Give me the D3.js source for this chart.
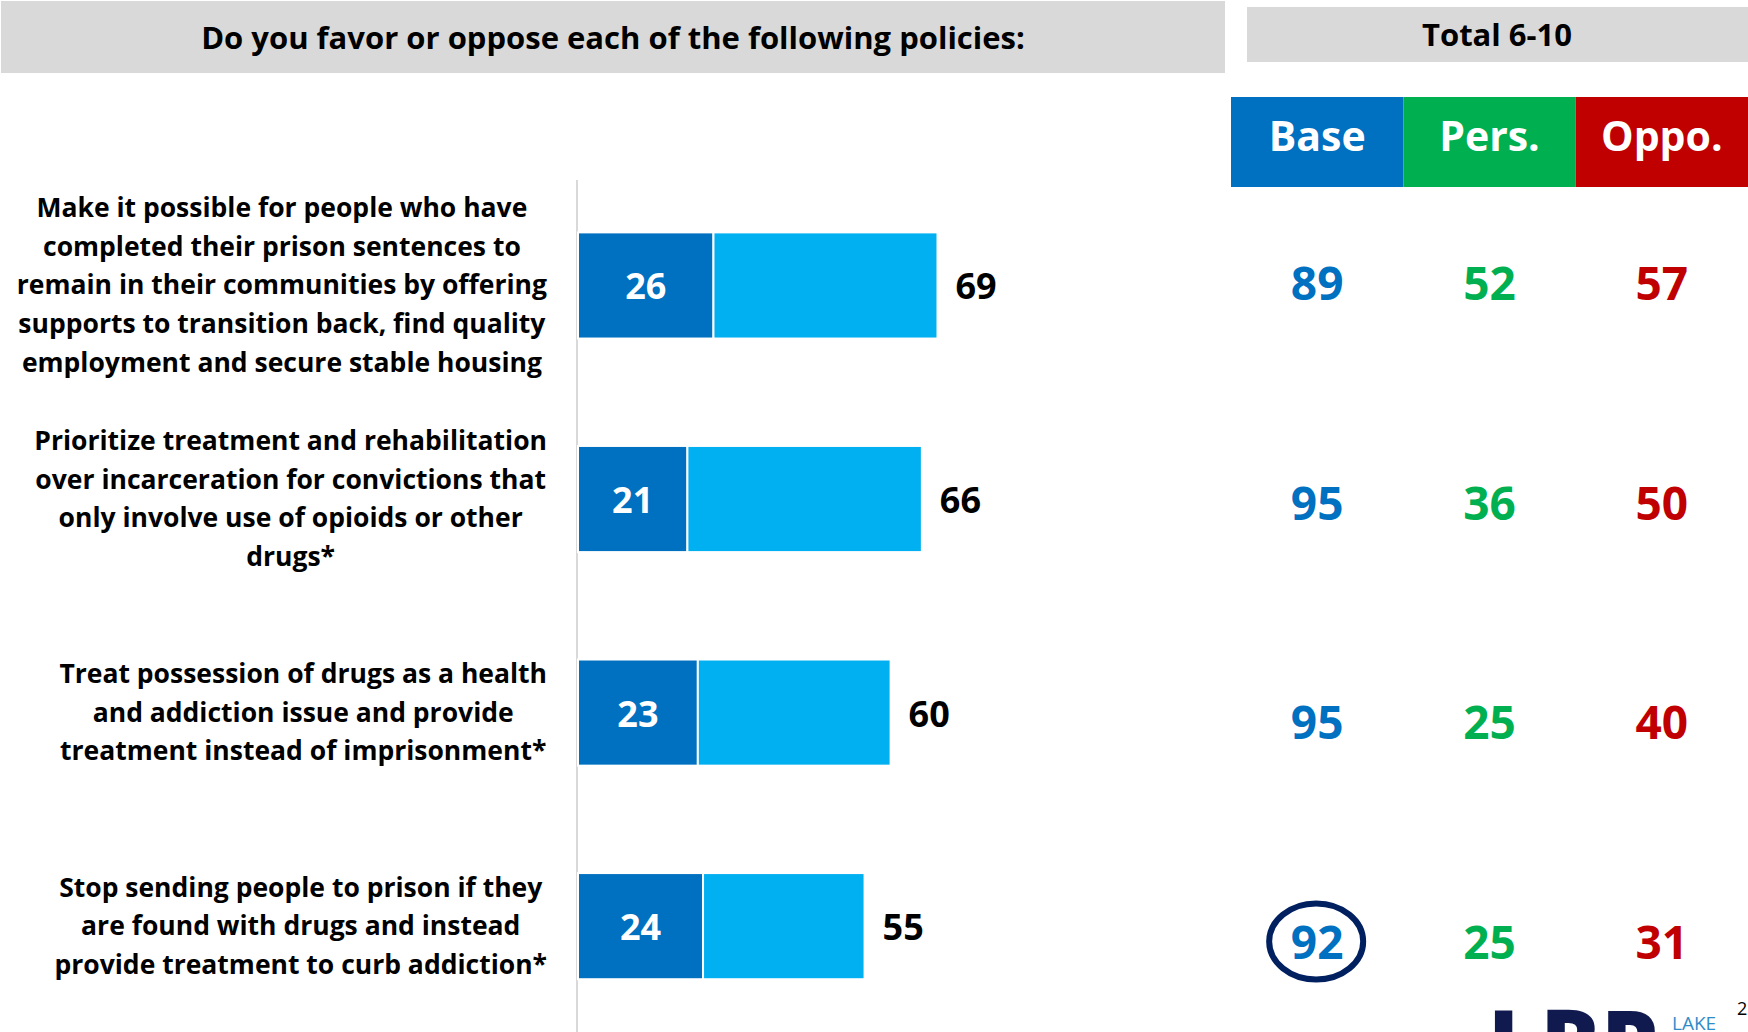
<!DOCTYPE html>
<html>
<head>
<meta charset="utf-8">
<script src="https://cdn.jsdelivr.net/npm/d3@7"></script>
<style>
  html, body { margin: 0; padding: 0; background: #ffffff; overflow: hidden; }
  svg { display: block; font-family: "Open Sans", "Noto Sans", sans-serif; }
</style>
</head>
<body>
<svg id="chart" width="1748" height="1032"></svg>
<script>
// Policy statements (one entry per bar, split into display lines)
const policies = [
  ["Make it possible for people who have",
   "completed their prison sentences to",
   "remain in their communities by offering",
   "supports to transition back, find quality",
   "employment and secure stable housing"],
  ["Prioritize treatment and rehabilitation",
   "over incarceration for convictions that",
   "only involve use of opioids or other",
   "drugs*"],
  ["Treat possession of drugs as a health",
   "and addiction issue and provide",
   "treatment instead of imprisonment*"],
  ["Stop sending people to prison if they",
   "are found with drugs and instead",
   "provide treatment to curb addiction*"]
];
const strongFavor = [26, 21, 23, 24];
const totalFavor  = [69, 66, 60, 55];

// Total 6-10 by segment
const segments = ["Base", "Pers.", "Oppo."];
const baseTotal = [89, 95, 95, 92];
const persTotal = [52, 36, 25, 25];
const oppoTotal = [57, 50, 40, 31];
const circledRow = 3;

const title = "Do you favor or oppose each of the following policies:";
const tableTitle = "Total 6-10";

const COL = {
  header: "#d9d9d9",
  strong: "#0070c0",
  total: "#00b0f0",
  base: "#0070c0",
  pers: "#00b050",
  oppo: "#c00000",
  ring: "#002060",
  logo: "#111a4e",
  lake: "#2e8cc8"
};
const segColors = [COL.base, COL.pers, COL.oppo];
const segValues = [baseTotal, persTotal, oppoTotal];

const svg = d3.select("#chart");
const rows = d3.range(policies.length);

// ---- headers ----
svg.append("rect").attr("x", 1).attr("y", 1).attr("width", 1224).attr("height", 72)
  .attr("fill", COL.header);
svg.append("text").attr("x", 613).attr("y", 49)
  .attr("text-anchor", "middle").attr("font-weight", 700).attr("font-size", 31)
  .attr("fill", "#000").text(title);

svg.append("rect").attr("x", 1247).attr("y", 7).attr("width", 501).attr("height", 55)
  .attr("fill", COL.header);
svg.append("text").attr("x", 1497).attr("y", 46)
  .attr("text-anchor", "middle").attr("font-weight", 700).attr("font-size", 31)
  .attr("fill", "#000").text(tableTitle);

// ---- bar chart ----
const x = d3.scaleLinear().domain([0, 100]).range([578, 1099]);
const y = d3.scaleBand().domain(rows).range([179, 1032.6])
  .paddingInner(0.503).paddingOuter(0.25);

// vertical baseline
svg.append("line").attr("x1", 577).attr("x2", 577).attr("y1", 180).attr("y2", 1032)
  .attr("stroke", "#d9d9d9").attr("stroke-width", 2);

const bars = svg.append("g");
bars.selectAll("rect.strong").data(rows).join("rect")
  .attr("class", "strong")
  .attr("x", i => x(0)).attr("y", i => y(i))
  .attr("width", i => x(strongFavor[i]) - x(0)).attr("height", y.bandwidth())
  .attr("fill", COL.strong).attr("stroke", "#fff").attr("stroke-width", 2);
bars.selectAll("rect.total").data(rows).join("rect")
  .attr("class", "total")
  .attr("x", i => x(strongFavor[i])).attr("y", i => y(i))
  .attr("width", i => x(totalFavor[i]) - x(strongFavor[i])).attr("height", y.bandwidth())
  .attr("fill", COL.total).attr("stroke", "#fff").attr("stroke-width", 2);

bars.selectAll("text.strong").data(rows).join("text")
  .attr("class", "strong")
  .attr("x", i => (x(0) + x(strongFavor[i])) / 2)
  .attr("y", i => y(i) + y.bandwidth() / 2 + 14)
  .attr("text-anchor", "middle").attr("font-weight", 700).attr("font-size", 36)
  .attr("fill", "#fff").text(i => strongFavor[i]);
bars.selectAll("text.total").data(rows).join("text")
  .attr("class", "total")
  .attr("x", i => x(totalFavor[i]) + 18)
  .attr("y", i => y(i) + y.bandwidth() / 2 + 14)
  .attr("text-anchor", "start").attr("font-weight", 700).attr("font-size", 36)
  .attr("fill", "#000").text(i => totalFavor[i]);

// ---- policy labels: each block centred on its widest line, right-aligned as a block ----
const labelRight = 547, lineH = 38.6;
const labels = svg.append("g").attr("font-weight", 700).attr("font-size", 26.5).attr("fill", "#000");
rows.forEach(i => {
  const lines = policies[i];
  const g = labels.append("g");
  const mid = y(i) + y.bandwidth() / 2 + 9;
  const t = g.selectAll("text").data(lines).join("text")
    .attr("text-anchor", "middle")
    .attr("y", (d, k) => mid + (k - (lines.length - 1) / 2) * lineH)
    .text(d => d);
  const maxW = d3.max(t.nodes(), n => n.getComputedTextLength());
  t.attr("x", labelRight - maxW / 2);
});

// ---- segment table ----
const cx = d3.scaleBand().domain(segments).range([1231, 1748]);
const ry = d3.scalePoint().domain(rows).range([283, 941.5]);

svg.append("g").selectAll("rect").data(segments).join("rect")
  .attr("x", d => cx(d)).attr("y", 97)
  .attr("width", cx.bandwidth()).attr("height", 90)
  .attr("fill", (d, j) => segColors[j]);
svg.append("g").selectAll("text").data(segments).join("text")
  .attr("x", d => cx(d) + cx.bandwidth() / 2).attr("y", 151)
  .attr("text-anchor", "middle").attr("font-weight", 700).attr("font-size", 41)
  .attr("fill", "#fff").text(d => d);

const cells = [];
segments.forEach((s, j) => rows.forEach(i => cells.push({ s, j, i, v: segValues[j][i] })));
svg.append("g").selectAll("text").data(cells).join("text")
  .attr("x", d => cx(d.s) + cx.bandwidth() / 2)
  .attr("y", d => ry(d.i) + 17)
  .attr("text-anchor", "middle").attr("font-weight", 700).attr("font-size", 46)
  .attr("fill", d => segColors[d.j]).text(d => d.v);

svg.append("ellipse")
  .attr("cx", cx("Base") + cx.bandwidth() / 2 - 1).attr("cy", ry(circledRow))
  .attr("rx", 47).attr("ry", 38)
  .attr("fill", "none").attr("stroke", COL.ring).attr("stroke-width", 6);

// ---- footer mark ----
svg.append("text").attr("x", 1488).attr("y", 1075)
  .attr("font-weight", 800).attr("font-size", 90).attr("fill", COL.logo)
  .text("LRP");
svg.append("text").attr("x", 1672).attr("y", 1030)
  .attr("font-weight", 400).attr("font-size", 19).attr("fill", COL.lake)
  .text("LAKE");
svg.append("text").attr("x", 1737).attr("y", 1015)
  .attr("font-size", 18).attr("fill", "#000").text("2");
</script>
</body>
</html>
